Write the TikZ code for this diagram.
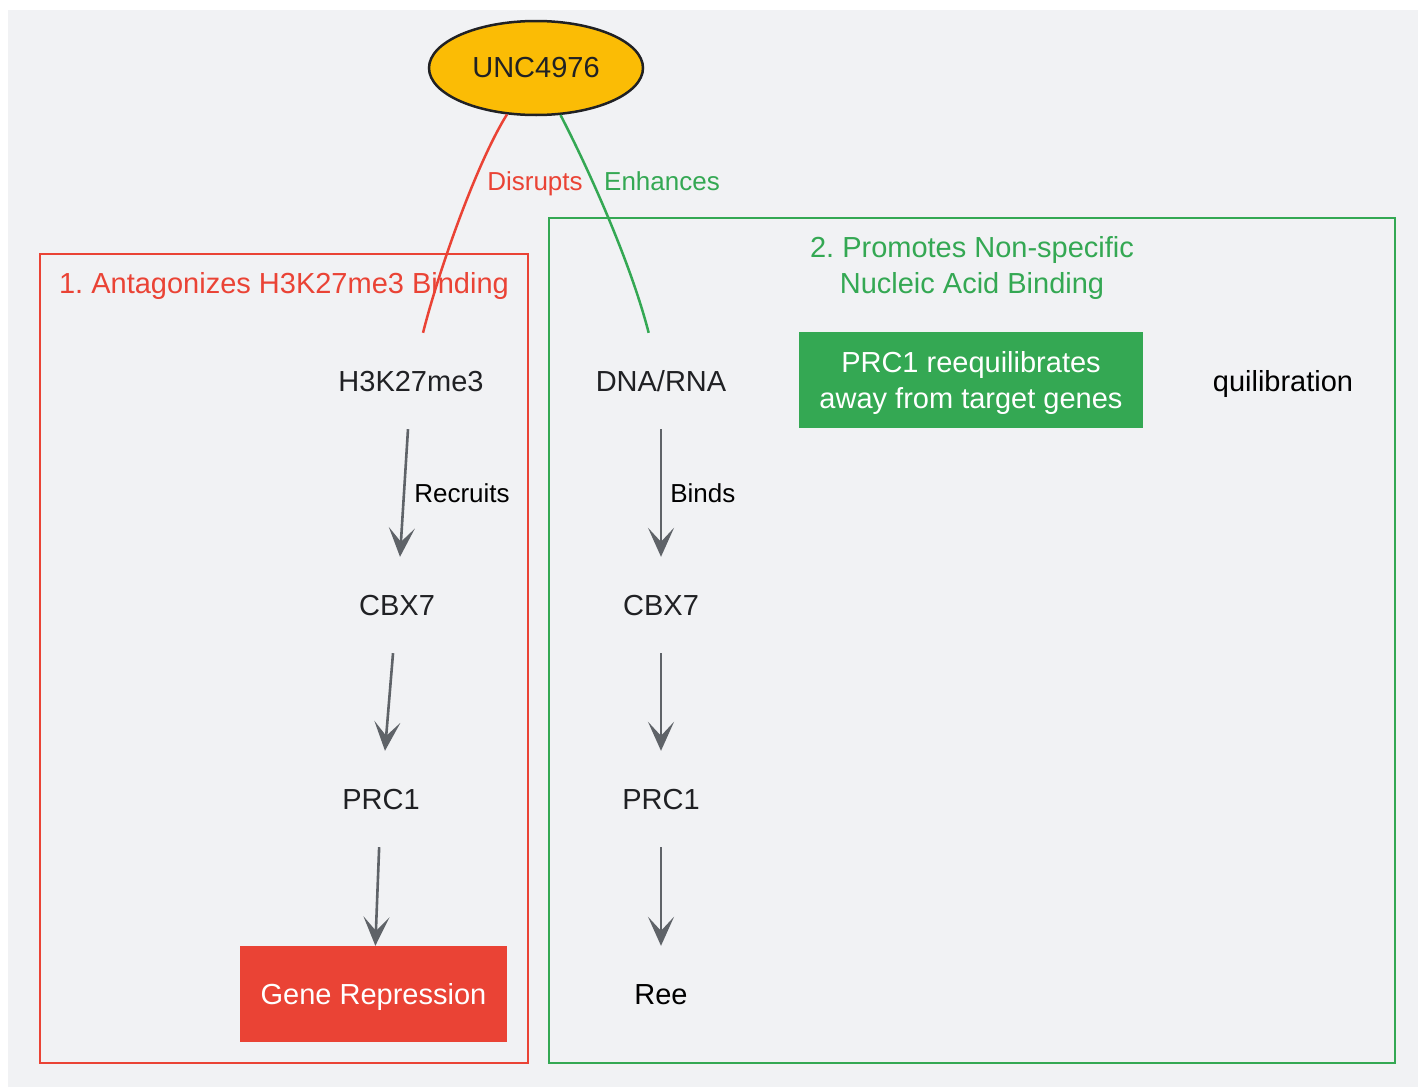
\documentclass[tikz,border=0pt]{standalone}
\usepackage{fontspec}
\setmainfont{Liberation Sans}
\usetikzlibrary{arrows.meta,shapes.geometric}
\definecolor{bggray}{HTML}{F1F2F4}
\definecolor{gred}{HTML}{EA4335}
\definecolor{ggreen}{HTML}{34A853}
\definecolor{gyellow}{HTML}{FBBC05}
\definecolor{agray}{HTML}{5F6368}
\definecolor{ink}{HTML}{202124}
\frenchspacing
\begin{document}
\begin{tikzpicture}[x=1pt,y=-1pt,
  nodefont/.style={font=\fontsize{29}{36}\selectfont},
  lblfont/.style={font=\fontsize{26}{32}\selectfont},
  plain/.style={nodefont, text=ink, inner sep=0pt, minimum height=96pt, text height=21pt, text depth=0pt},
  cluster/.style={line width=2.5pt},
  arr/.style={draw=agray, line width=2.6pt, -{Stealth[length=29pt,width=26pt,inset=14pt]}},
  elabel/.style={lblfont, text=black, inner sep=0pt, text height=19pt, text depth=0pt, anchor=west},
  clabel/.style={lblfont, inner sep=0pt, text height=19pt, text depth=0pt},
  link/.style={line width=2.5pt},
]
\useasboundingbox (0,0) rectangle (1418,1087);
\fill[white] (0,0) rectangle (1418,1087);
\fill[bggray] (8,10) rectangle (1418,1087);

% clusters
\draw[cluster, draw=gred] (40,254) rectangle (528,1063);
\draw[cluster, draw=ggreen] (549,218) rectangle (1395,1063);
\node[nodefont, text=gred, inner sep=0pt, text height=21pt, text depth=0pt] (t1) at (284,283) {1. Antagonizes H3K27me3 Binding};
\node[nodefont, text=ggreen, align=center, inner sep=0pt, text depth=0pt] (t2) at (972,265) {2. Promotes Non-specific\\Nucleic Acid Binding};

% top node
\node[draw=ink, fill=gyellow, ellipse, line width=2.5pt, minimum width=214pt, minimum height=94pt, inner sep=0pt, nodefont, text=ink] (unc) at (536,68) {UNC4976};

% left column
\node[plain] (h3k) at (411,381) {H3K27me3};
\node[plain] (cbxa) at (397,605) {CBX7};
\node[plain] (prca) at (381,799) {PRC1};
\node[plain, fill=gred, text=white, minimum width=267pt] (gene) at (373.5,994) {Gene Repression};

% right column
\node[plain] (dna) at (661,381) {DNA/RNA};
\node[plain] (cbxb) at (661,605) {CBX7};
\node[plain] (prcb) at (661,799) {PRC1};
\node[plain, text=black] (ree) at (661,994) {Ree};
\node[nodefont, fill=ggreen, text=white, align=center, inner sep=0pt, minimum width=344pt, minimum height=96pt, text depth=0pt] (prc1re) at (971,380) {PRC1 reequilibrates\\away from target genes};
\node[plain, text=black] (quil) at (1283,381) {quilibration};

% arrows
\draw[arr] (h3k) -- node[elabel, xshift=9pt] {Recruits} (cbxa);
\draw[arr] (cbxa) -- (prca);
\draw[arr] (prca) -- (gene);
\draw[arr] (dna) -- node[elabel, xshift=8pt] {Binds} (cbxb);
\draw[arr] (cbxb) -- (prcb);
\draw[arr] (prcb) -- (ree);

% curved links
\draw[link, draw=gred] (unc) .. controls (476,164) and (438,273) .. (h3k);
\draw[link, draw=ggreen] (unc) .. controls (586,164) and (630,260) .. (dna);
\node[clabel, text=gred] (dis) at (535,181) {Disrupts};
\node[clabel, text=ggreen] (enh) at (662,181) {Enhances};
\end{tikzpicture}
\end{document}
